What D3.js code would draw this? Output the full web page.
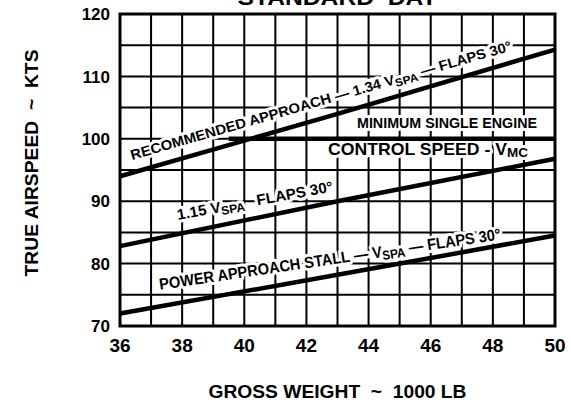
<!DOCTYPE html>
<html>
<head>
<meta charset="utf-8">
<script src="https://cdn.jsdelivr.net/npm/d3@7"></script>
<style>
  body { margin: 0; background: #fff; }
  text { font-family: "Liberation Sans", Arial, sans-serif; font-weight: bold; fill: #000; white-space: pre; }
  .halo { stroke: #fff; stroke-width: 6px; paint-order: stroke; stroke-linejoin: round; }
</style>
</head>
<body>
<div id="chart-area"></div>
<script>
// gross weight (1000 lb) and true airspeed (kts)
var weights = [36, 43, 50];
var recommended = [94.0, 104.0, 114.3];
var vspa115 = [82.8, 90.0, 96.8];
var vspa = [72.0, 78.2, 84.5];
var vmcWeights = [39.5, 50];
var vmc = [100, 100];

var xTicks = [36, 38, 40, 42, 44, 46, 48, 50];
var yTicks = [70, 80, 90, 100, 110, 120];

var margin = {top: 14, right: 16, bottom: 76, left: 120};
var width = 571 - margin.left - margin.right;
var height = 402 - margin.top - margin.bottom;

var x = d3.scaleLinear().domain([36, 50]).range([0, width]);
var y = d3.scaleLinear().domain([70, 120]).range([height, 0]);

var svg = d3.select("#chart-area")
  .append("svg")
  .attr("width", 571)
  .attr("height", 402);

var g = svg.append("g")
  .attr("transform", "translate(" + margin.left + ", " + margin.top + ")");

// grid: every 1000 lb and every 5 kts
g.append("g").selectAll("line")
  .data(d3.range(37, 50))
  .enter().append("line")
  .attr("x1", d => x(d)).attr("x2", d => x(d))
  .attr("y1", 0).attr("y2", height)
  .attr("stroke", "#000").attr("stroke-width", 2);

g.append("g").selectAll("line")
  .data(d3.range(75, 120, 5))
  .enter().append("line")
  .attr("y1", d => y(d)).attr("y2", d => y(d))
  .attr("x1", 0).attr("x2", width)
  .attr("stroke", "#000").attr("stroke-width", 2);

var line = d3.line().x(d => x(d[0])).y(d => y(d[1]));

function drawCurve(ws, vs) {
  g.append("path")
    .datum(ws.map((w, i) => [w, vs[i]]))
    .attr("d", line)
    .attr("fill", "none")
    .attr("stroke", "#000")
    .attr("stroke-width", 4.5);
}

// labels sit on a white halo, like the knocked-out grid in the original
function slanted(w, v, angle, len, size, parts) {
  var t = g.append("text")
    .attr("class", "halo")
    .attr("font-size", size + "px")
    .attr("textLength", len)
    .attr("lengthAdjust", "spacingAndGlyphs")
    .attr("transform", "translate(" + x(w) + "," + y(v) + ") rotate(" + (-angle) + ")");
  parts.forEach(p => {
    var s = t.append("tspan").text(p[0]);
    if (p[1] === "sub") s.attr("font-size", (size * 0.8) + "px").attr("dy", 3);
    if (p[1] === "up") s.attr("dy", -3);
  });
}

slanted(36.39, 96.6, 16.1, 396, 14, [
  ["RECOMMENDED APPROACH \u2014 1.34 V"], ["SPA", "sub"], [" \u2014 FLAPS 30\u00b0", "up"]
]);
slanted(37.87, 87.0, 10.4, 158, 15, [
  ["1.15 V"], ["SPA", "sub"], ["   FLAPS 30\u00b0", "up"]
]);
slanted(37.29, 75.8, 8.4, 345, 16, [
  ["POWER APPROACH STALL \u2014 V"], ["SPA", "sub"], [" \u2014 FLAPS 30\u00b0", "up"]
]);

g.append("text")
  .attr("class", "halo")
  .attr("x", 237).attr("y", 114)
  .attr("font-size", "14px")
  .attr("textLength", 180)
  .attr("lengthAdjust", "spacingAndGlyphs")
  .text("MINIMUM SINGLE ENGINE");

var vmcLabel = g.append("text")
  .attr("class", "halo")
  .attr("x", 208).attr("y", 141)
  .attr("font-size", "17px")
  .attr("textLength", 200)
  .attr("lengthAdjust", "spacingAndGlyphs");
vmcLabel.append("tspan").text("CONTROL SPEED - V");
vmcLabel.append("tspan").attr("font-size", "13px").attr("dy", 2).text("MC");

drawCurve(weights, recommended);
drawCurve(weights, vspa115);
drawCurve(weights, vspa);
drawCurve(vmcWeights, vmc);

// frame
g.append("rect")
  .attr("width", width).attr("height", height)
  .attr("fill", "none").attr("stroke", "#000").attr("stroke-width", 3);

// tick labels
g.append("g").selectAll("text")
  .data(yTicks)
  .enter().append("text")
  .attr("x", -10).attr("y", d => y(d))
  .attr("dy", "0.36em")
  .attr("text-anchor", "end")
  .attr("font-size", "17px")
  .text(d => d);

g.append("g").selectAll("text")
  .data(xTicks)
  .enter().append("text")
  .attr("x", d => x(d)).attr("y", height + 26)
  .attr("text-anchor", "middle")
  .attr("font-size", "19px")
  .text(d => d);

// titles (the top one is cut by the page edge, as in the scan)
svg.append("text")
  .attr("x", margin.left + width / 2).attr("y", 5)
  .attr("text-anchor", "middle")
  .attr("font-size", "22px")
  .attr("textLength", 200)
  .attr("lengthAdjust", "spacingAndGlyphs")
  .text("STANDARD  DAY");

svg.append("text")
  .attr("x", margin.left + width / 2).attr("y", 398)
  .attr("text-anchor", "middle")
  .attr("font-size", "19px")
  .attr("textLength", 258)
  .attr("lengthAdjust", "spacingAndGlyphs")
  .text("GROSS WEIGHT  ~  1000 LB");

svg.append("text")
  .attr("transform", "translate(38, 163) rotate(-90)")
  .attr("text-anchor", "middle")
  .attr("font-size", "19px")
  .attr("textLength", 227)
  .attr("lengthAdjust", "spacingAndGlyphs")
  .text("TRUE AIRSPEED  ~  KTS");
</script>
</body>
</html>
